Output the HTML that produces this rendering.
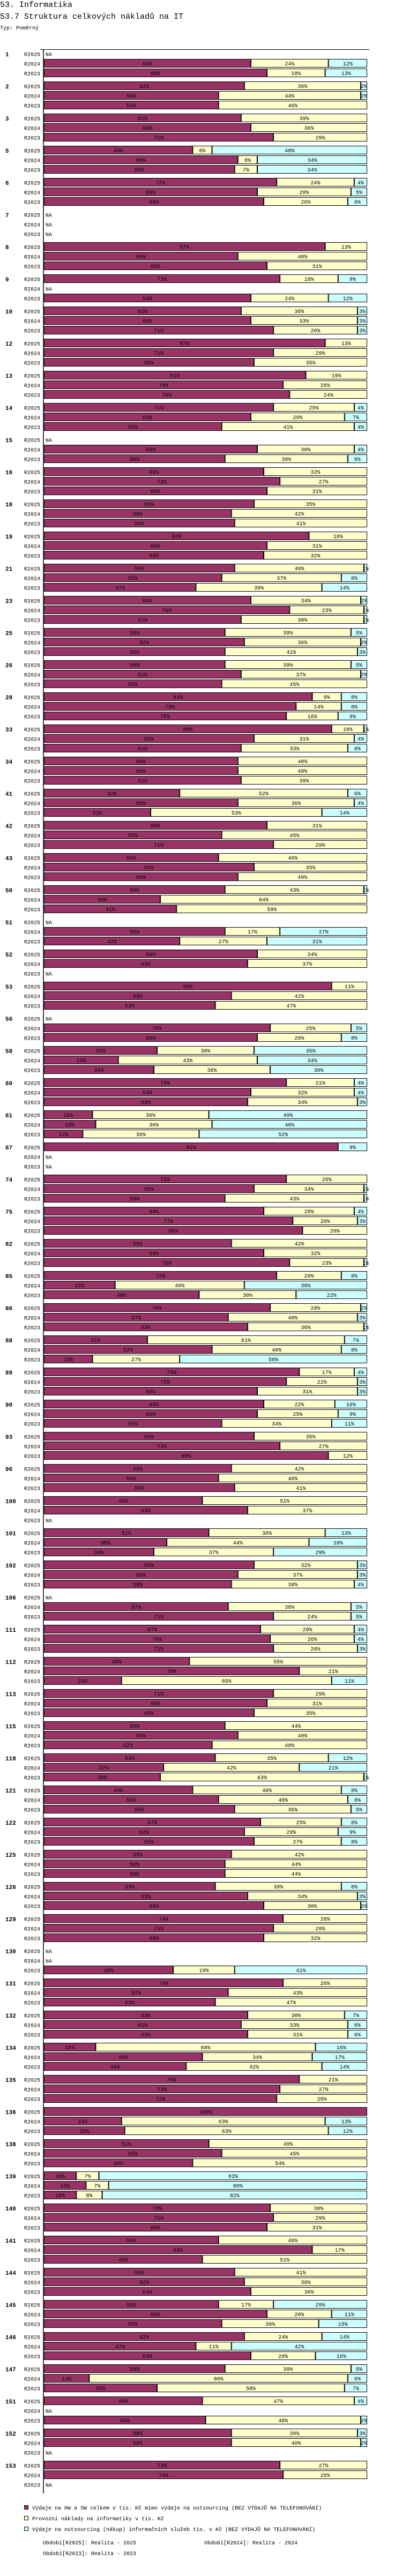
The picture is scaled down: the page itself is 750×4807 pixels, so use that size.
<!DOCTYPE html>
<html><head><meta charset="utf-8"><title>53.7 Struktura celkových nákladů na IT</title>
<style>
html,body{margin:0;padding:0;background:#fff;}
body{width:750px;height:4802px;overflow:hidden;font-family:"Liberation Mono",monospace;}
svg text{font-family:"Liberation Mono",monospace;}
</style></head>
<body>
<svg id="chart" width="750" height="4802" xmlns="http://www.w3.org/2000/svg">
<text x="0" y="13" font-size="15" fill="#000">53. Informatika</text>
<text x="0" y="35" font-size="15" fill="#000">53.7 Struktura celkových nákladů na IT</text>
<text x="0" y="55" font-size="10" fill="#000">Typ: Poměrný</text>
<g id="plot"></g>
<g>
<rect x="45.5" y="4675.5" width="7" height="7" fill="#993366" stroke="#000"/>
<text x="60" y="4683" font-size="10">Výdaje na HW a SW celkem v tis. Kč mimo výdaje na outsourcing (BEZ VÝDAJŮ NA TELEFONOVÁNÍ)</text>
<rect x="45.5" y="4695.5" width="7" height="7" fill="#ffffcc" stroke="#000"/>
<text x="60" y="4703" font-size="10">Provozní náklady na informatiky v tis. Kč</text>
<rect x="45.5" y="4715.5" width="7" height="7" fill="#ccffff" stroke="#000"/>
<text x="60" y="4723" font-size="10">Výdaje na outsourcing (nákup) informačních služeb tis. v Kč (BEZ VÝDAJŮ NA TELEFONOVÁNÍ)</text>
<text x="80" y="4748" font-size="10">Období[R2025]: Realita - 2025</text>
<text x="381" y="4748" font-size="10">Období[R2024]: Realita - 2024</text>
<text x="80" y="4768" font-size="10">Období[R2023]: Realita - 2023</text>
</g>
</svg>
<script>
const groupLabels = [1,2,3,5,6,7,8,9,10,12,13,14,15,16,18,19,21,23,25,26,28,33,34,41,42,43,50,51,52,53,56,58,60,61,67,74,75,82,85,86,88,89,90,93,96,100,101,102,106,111,112,113,115,118,121,122,125,126,129,130,131,132,134,135,136,138,139,140,141,144,145,146,147,151,152,153];
const periods = ["R2025","R2024","R2023"];
const hwVals = [[null,64,69],[62,54,54],[61,64,71],[46,60,59],[72,66,68],[null,null,null],[87,60,69],[73,null,64],[61,64,71],[87,71,65],[81,74,76],[71,64,55],[null,66,56],[68,73,69],[65,58,59],[82,69,68],[59,55,47],[64,76,61],[56,62,56],[56,61,55],[83,78,75],[89,65,61],[60,60,61],[42,60,33],[69,55,71],[54,65,60],[56,36,41],[null,56,42],[66,63,null],[89,58,53],[null,70,66],[35,23,34],[75,64,63],[15,16,12],[91,null,null],[75,65,56],[68,77,80],[58,68,76],[72,22,48],[70,57,63],[32,52,15],[79,75,66],[68,66,55],[65,73,88],[58,54,59],[49,63,null],[51,38,34],[65,60,58],[null,57,71],[67,70,71],[45,79,24],[71,69,65],[56,60,52],[53,37,36],[46,54,59],[67,62,65],[58,56,56],[53,63,68],[74,71,68],[null,null,40],[74,57,53],[63,61,63],[16,49,44],[79,73,72],[100,24,25],[51,55,46],[10,13,10],[70,71,69],[54,83,49],[59,62,64],[54,69,55],[62,47,64],[56,14,35],[49,null,50],[58,58,null],[73,74,null]];
const opVals = [[null,24,18],[36,44,46],[39,36,29],[6,6,7],[24,29,26],[null,null,null],[13,40,31],[18,null,24],[36,33,26],[13,29,35],[19,26,24],[25,29,41],[null,30,38],[32,27,31],[35,42,41],[18,31,32],[40,37,39],[34,23,38],[39,36,41],[39,37,45],[9,14,16],[10,31,33],[40,40,39],[52,36,53],[31,45,29],[46,35,40],[43,64,59],[null,17,27],[34,37,null],[11,42,47],[null,25,26],[30,43,36],[21,32,34],[36,36,36],[0,null,null],[25,34,43],[28,20,20],[42,32,23],[20,40,30],[28,40,36],[61,40,27],[17,22,31],[22,25,34],[35,27,12],[42,46,41],[51,37,null],[36,44,37],[32,37,38],[null,38,24],[29,26,26],[55,21,65],[29,31,35],[44,40,48],[35,42,63],[46,40,36],[25,29,27],[42,44,44],[39,34,30],[26,29,32],[null,null,19],[26,43,47],[30,33,31],[68,34,42],[21,27,28],[0,63,63],[49,45,54],[7,7,8],[30,29,31],[46,17,51],[41,38,36],[17,20,30],[24,11,20],[39,80,58],[47,null,48],[39,40,null],[27,26,null]];
const outVals = [[null,12,13],[2,2,0],[0,0,0],[48,34,34],[4,5,6],[null,null,null],[0,0,0],[9,null,12],[3,3,3],[0,0,0],[0,0,0],[4,7,4],[null,4,6],[0,0,0],[0,0,0],[0,0,0],[1,8,14],[2,1,1],[5,2,3],[5,2,0],[8,8,9],[1,4,6],[0,0,0],[6,4,14],[0,0,0],[0,0,0],[1,0,0],[null,27,31],[0,0,null],[0,0,0],[null,5,8],[35,34,30],[4,4,3],[49,48,52],[9,null,null],[0,1,1],[4,3,0],[0,0,1],[8,38,22],[2,3,1],[7,8,58],[4,3,3],[10,9,11],[0,0,0],[0,0,0],[0,0,null],[13,18,29],[3,3,4],[null,5,5],[4,4,3],[0,0,11],[0,0,0],[0,0,0],[12,21,1],[8,6,5],[8,9,8],[0,0,0],[8,3,2],[0,0,0],[null,null,41],[0,0,0],[7,6,6],[16,17,14],[0,0,0],[0,13,12],[0,0,0],[83,80,82],[0,0,0],[0,0,0],[0,0,0],[29,11,15],[14,42,16],[5,6,7],[4,null,2],[3,2,null],[0,0,null]];

const NS = "http://www.w3.org/2000/svg";
const plot = document.getElementById('plot');
const X0 = 82, BARW = 603, TOP = 92, GROUP_H = 60, ROW_H = 18;
const colors = ["#993366", "#ffffcc", "#ccffff"];
const segNames = ["hw-sw", "operating", "outsourcing"];
function xScale(v, total){ return v / total * BARW; }
function groupY(g){ return TOP + g * GROUP_H; }
function mk(tag, attrs){ const e = document.createElementNS(NS, tag); for (const k in attrs) e.setAttribute(k, attrs[k]); return e; }

const n = groupLabels.length;
const lastY = groupY(n - 1) + 3 * ROW_H + 7;
const hline = mk('line', {x1: 75, y1: TOP + 0.5, x2: 689, y2: TOP + 0.5, stroke: '#000', 'stroke-width': 1});


plot.appendChild(hline);

for (let g = 0; g < n; g++) {
  const gy = groupY(g);
  const gl = mk('text', {x: 10, y: gy + 13, 'font-size': 11, 'font-weight': 'bold'});
  gl.textContent = groupLabels[g];
  
  
  plot.appendChild(gl);
  for (let r = 0; r < 3; r++) {
    const ry = gy + r * ROW_H;
    const pl = mk('text', {x: 75, y: ry + 12.5, 'font-size': 10, 'text-anchor': 'end'});
    pl.textContent = periods[r];
    
    
    plot.appendChild(pl);
    const h = hwVals[g][r];
    if (h === null) {
      const na = mk('text', {x: 85, y: ry + 12.5, 'font-size': 10});
      na.textContent = 'NA';
      
      
      plot.appendChild(na);
      continue;
    }
    const vals = [h, opVals[g][r] || 0, outVals[g][r] || 0];
    const total = vals[0] + vals[1] + vals[2];
    let x = X0;
    for (let s = 0; s < 3; s++) {
      if (!vals[s]) continue;
      const w = xScale(vals[s], total);
      const rect = mk('rect', {x: x + 0.5, y: ry + 0.5, width: Math.max(w - 1, 0.5), height: 15, fill: colors[s], stroke: '#000', 'stroke-width': 1});
      
      
      plot.appendChild(rect);
      const t = mk('text', {x: x + w / 2, y: ry + 12, 'font-size': 10, 'text-anchor': 'middle'});
      t.textContent = vals[s] + '%';
      
      
      plot.appendChild(t);
      x += w;
    }
  }
}
const vline = mk('line', {x1: 81, y1: TOP, x2: 81, y2: lastY, stroke: '#000', 'stroke-width': 1.5});


plot.appendChild(vline);
</script>
</body></html>
